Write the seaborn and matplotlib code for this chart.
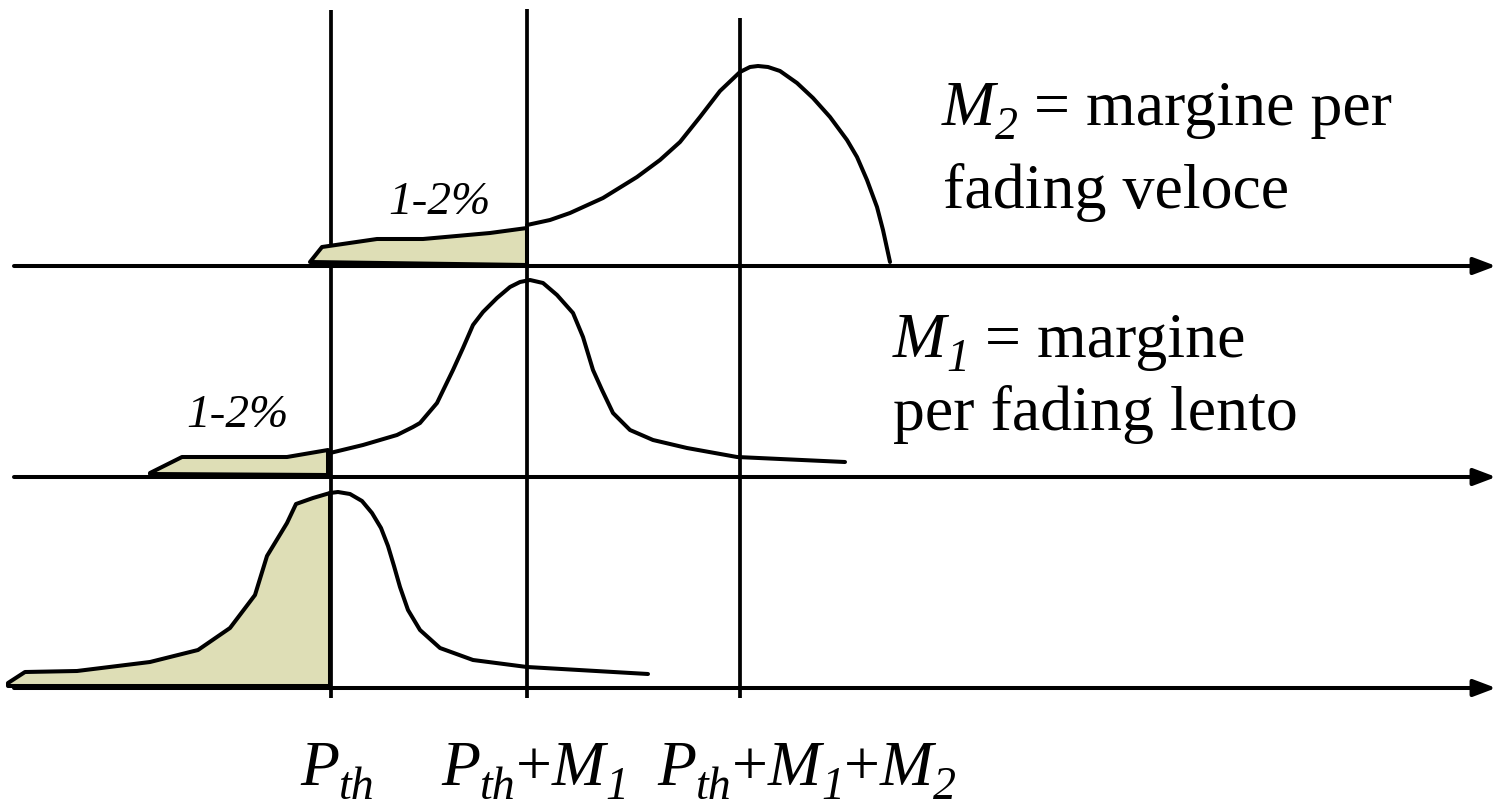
import matplotlib
matplotlib.use("Agg")
import matplotlib.pyplot as plt
import seaborn as sns
import pandas as pd

# ---- schematic data (x: received power axis, h: density height above each baseline)
W, H = 1496, 811
x_pth, x_m1, x_m2 = 331, 527, 740          # P_th, P_th+M1, P_th+M1+M2
baselines = [123, 334, 545]                 # bottom, middle, top panel
axis_x_start, axis_x_end = 14, 1496

# bottom panel: no margin, outage tail up to P_th
tail0_x = [8, 25, 77, 150, 198, 230, 255, 267, 287, 296, 313, 330]
tail0_h = [5, 16, 17, 26, 38, 60, 93, 132, 165, 184, 190, 195]
tail0_base = [2, 2]
curve0_x = [330, 338, 350, 362, 372, 381, 388, 394, 400, 408, 420, 440, 473, 527, 648]
curve0_h = [195, 196, 194, 187, 175, 160, 142, 122, 101, 78, 58, 40, 28, 21, 14]

# middle panel: slow-fading margin M1
tail1_x = [150, 182, 287, 328]
tail1_h = [4, 20, 20, 27]
tail1_base = [3, 2]
curve1_x = [330, 363, 397, 413, 420, 437, 453, 463, 473, 483, 497, 510, 520, 530,
            543, 557, 573, 583, 593, 602, 613, 630, 653, 687, 737, 845]
curve1_h = [24, 32, 42, 50, 54, 74, 107, 129, 152, 165, 179, 190, 195, 197,
            194, 182, 164, 140, 107, 87, 64, 47, 37, 29, 20, 15]

# top panel: fast-fading margin M2
tail2_x = [310, 322, 377, 423, 490, 527]
tail2_h = [4, 19, 27, 27, 33, 38]
tail2_base = [4, 1]
curve2_x = [527, 550, 570, 603, 637, 660, 680, 700, 720, 740, 750, 758, 768, 780,
            797, 813, 830, 847, 857, 867, 877, 883, 890]
curve2_h = [41, 46, 53, 68, 89, 106, 124, 149, 175, 194, 199, 200, 199, 195,
            183, 168, 149, 126, 109, 86, 59, 36, 4]

# labels, as (text, style) pieces: it = italic, sub = italic subscript, rm = roman
tick_labels = [
    [("P", "it"), ("th", "sub")],
    [("P", "it"), ("th", "sub"), ("+", "rm"), ("M", "it"), ("1", "sub")],
    [("P", "it"), ("th", "sub"), ("+", "rm"), ("M", "it"), ("1", "sub"),
     ("+", "rm"), ("M", "it"), ("2", "sub")],
]
tick_label_x = [300, 441, 657]
outage_label = "1-2%"
m2_lines = [[("M", "it"), ("2", "sub"), (" = margine per", "rm")],
            [("fading veloce", "rm")]]
m1_lines = [[("M", "it"), ("1", "sub"), (" = margine", "rm")],
            [("per fading lento", "rm")]]

FILL = "#DEDEB6"
LW = 2.9
FS = 46
SUB_FS = 33
SUB_DROP = 14

sns.set_theme(style="white")
plt.rcParams["font.family"] = ["Liberation Serif", "DejaVu Serif"]
plt.rcParams["text.color"] = "black"

fig = plt.figure(figsize=(W / 100, H / 100), dpi=100)
ax = fig.add_axes([0, 0, 1, 1])

# vertical reference lines
ax.vlines(x_pth, 811 - 698, 811 - 10, color="black", lw=2.7)
ax.vlines(x_m1, 811 - 698, 811 - 9, color="black", lw=2.7)
ax.vlines(x_m2, 811 - 698, 811 - 18, color="black", lw=2.7)

panels = [
    (tail0_x, tail0_h, tail0_base, curve0_x, curve0_h),
    (tail1_x, tail1_h, tail1_base, curve1_x, curve1_h),
    (tail2_x, tail2_h, tail2_base, curve2_x, curve2_h),
]

for base, (tx, th, tb, cx, ch) in zip(baselines, panels):
    # shaded outage tail, outlined
    px = list(tx) + [tx[-1], tx[0]]
    py = [base + h for h in th] + [base + tb[1], base + tb[0]]
    ax.fill(px, py, facecolor=FILL, edgecolor="black", lw=LW, joinstyle="round", zorder=2)
    # density curve
    df = pd.DataFrame({"x": cx, "y": [base + h for h in ch]})
    sns.lineplot(data=df, x="x", y="y", sort=False, estimator=None, ax=ax,
                 color="black", lw=LW, zorder=3)
    # horizontal axis with arrow
    ax.annotate("", xy=(axis_x_end, base), xytext=(axis_x_start, base),
                arrowprops=dict(arrowstyle="-|>,head_length=0.45,head_width=0.17",
                                mutation_scale=30, lw=LW, color="black",
                                shrinkA=0, shrinkB=0), zorder=4)

ax.set_xlim(0, W)
ax.set_ylim(0, H)
ax.set_axis_off()


def rich_text(x, y, pieces):
    """Draw a label made of italic / subscript / roman pieces on one baseline."""
    prev = None
    for txt, kind in pieces:
        size = SUB_FS if kind == "sub" else FS
        style = "normal" if kind == "rm" else "italic"
        ty = y - SUB_DROP if kind == "sub" else y
        if prev is None:
            prev = ax.text(x, ty, txt, fontsize=size, style=style, color="black",
                           ha="left", va="baseline")
        else:
            prev = ax.annotate(txt, xy=(1, ty), xycoords=(prev, "data"),
                               fontsize=size, style=style, color="black",
                               ha="left", va="baseline")
    return prev


# tick labels under the axes
for lab, lx in zip(tick_labels, tick_label_x):
    rich_text(lx, 811 - 785, lab)

# outage probability labels
ax.text(388, 811 - 214, outage_label, fontsize=34, style="italic", color="black",
        ha="left", va="baseline")
ax.text(186, 811 - 427, outage_label, fontsize=34, style="italic", color="black",
        ha="left", va="baseline")

# margin descriptions
rich_text(942, 811 - 125, m2_lines[0])
rich_text(943, 811 - 208, m2_lines[1])
rich_text(893, 811 - 357, m1_lines[0])
rich_text(893, 811 - 430, m1_lines[1])

fig.savefig("out.png", dpi=100, facecolor="white")
